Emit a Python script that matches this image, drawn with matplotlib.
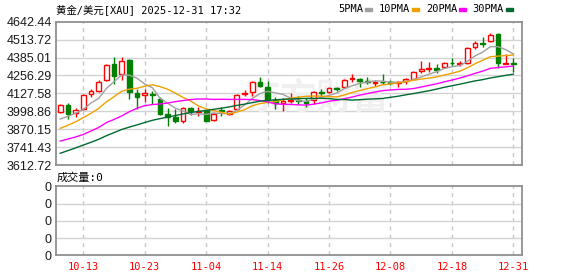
import matplotlib

matplotlib.use("Agg")
import matplotlib.pyplot as plt
import numpy as np

# trading days shown (MM-DD, 2025)
dates = ["10-08", "10-09", "10-10", "10-13", "10-14", "10-15", "10-16", "10-17", "10-20", "10-21",
         "10-22", "10-23", "10-24", "10-27", "10-28", "10-29", "10-30", "10-31", "11-03", "11-04",
         "11-05", "11-06", "11-07", "11-10", "11-11", "11-12", "11-13", "11-14", "11-17", "11-18",
         "11-19", "11-20", "11-21", "11-24", "11-25", "11-26", "11-27", "11-28", "12-01", "12-02",
         "12-03", "12-04", "12-05", "12-08", "12-09", "12-10", "12-11", "12-12", "12-15", "12-16",
         "12-17", "12-18", "12-19", "12-22", "12-23", "12-24", "12-26", "12-29", "12-30", "12-31"]

opens = [3991, 4042, 3988, 4017, 4121, 4146, 4221, 4338, 4266, 4367,
         4132, 4113, 4125, 4087, 3979, 3955, 3927, 4020, 3997, 4006,
         3936, 4005, 3981, 4013, 4120, 4135, 4211, 4171, 4080, 4056,
         4075, 4082, 4072, 4080, 4135, 4135, 4164, 4171, 4230, 4231,
         4215, 4204, 4212, 4210, 4200, 4214, 4233, 4290, 4301, 4307,
         4317, 4349, 4338, 4348, 4463, 4490, 4504, 4552, 4338, 4348]
highs = [4051, 4060, 4022, 4121, 4161, 4223, 4341, 4387, 4389, 4374,
         4159, 4159, 4145, 4101, 4020, 4017, 4027, 4030, 4032, 4008,
         3986, 4031, 4005, 4123, 4151, 4216, 4243, 4218, 4103, 4096,
         4132, 4108, 4096, 4142, 4159, 4171, 4175, 4228, 4264, 4240,
         4245, 4218, 4264, 4223, 4218, 4240, 4288, 4357, 4353, 4338,
         4351, 4380, 4360, 4458, 4506, 4530, 4559, 4559, 4410, 4384]
lows = [3985, 3945, 3955, 4010, 4099, 4140, 4216, 4192, 4223, 4087,
        4013, 4065, 4050, 3974, 3893, 3917, 3917, 3972, 3965, 3926,
        3929, 3967, 3970, 4008, 4108, 4108, 4175, 4060, 4013, 4001,
        4060, 4049, 4027, 4051, 4108, 4130, 4146, 4168, 4211, 4175,
        4192, 4182, 4197, 4188, 4175, 4195, 4228, 4276, 4279, 4276,
        4307, 4324, 4322, 4338, 4448, 4463, 4496, 4307, 4336, 4283]
closes = [4044, 3979, 4010, 4113, 4144, 4211, 4331, 4254, 4358, 4135,
          4101, 4128, 4118, 3979, 3955, 3927, 4022, 3999, 4001, 3931,
          3981, 3998, 4000, 4116, 4127, 4207, 4180, 4080, 4060, 4072,
          4080, 4076, 4060, 4135, 4129, 4164, 4160, 4223, 4236, 4214,
          4209, 4210, 4206, 4203, 4208, 4231, 4281, 4300, 4307, 4297,
          4346, 4343, 4344, 4454, 4492, 4482, 4545, 4344, 4345, 4338]

# moving averages
ma5 = [3943, 3962, 3985, 4012, 4058, 4091, 4162, 4211, 4260, 4258,
       4236, 4195, 4168, 4092, 4056, 4021, 4000, 3976, 3981, 3976,
       3987, 3982, 3982, 4005, 4044, 4090, 4126, 4142, 4131, 4120,
       4094, 4074, 4070, 4085, 4096, 4113, 4130, 4162, 4182, 4199,
       4208, 4218, 4215, 4208, 4207, 4212, 4226, 4245, 4265, 4283,
       4306, 4319, 4327, 4357, 4396, 4423, 4463, 4463, 4442, 4411]
ma10 = [3876, 3898, 3923, 3953, 3984, 4019, 4066, 4103, 4143, 4158,
        4164, 4179, 4189, 4176, 4157, 4129, 4098, 4072, 4037, 4016,
        4004, 3991, 3979, 3993, 4010, 4038, 4054, 4062, 4068, 4082,
        4092, 4100, 4106, 4108, 4108, 4104, 4102, 4116, 4134, 4148,
        4161, 4174, 4189, 4195, 4203, 4210, 4222, 4230, 4237, 4245,
        4259, 4272, 4286, 4311, 4340, 4365, 4391, 4395, 4399, 4403]
ma20 = [3785, 3799, 3814, 3832, 3857, 3882, 3917, 3940, 3965, 3996,
        4020, 4039, 4047, 4051, 4058, 4068, 4076, 4083, 4087, 4087,
        4084, 4085, 4084, 4084, 4084, 4083, 4076, 4067, 4052, 4049,
        4048, 4045, 4043, 4050, 4059, 4071, 4078, 4089, 4101, 4115,
        4126, 4137, 4147, 4152, 4156, 4157, 4162, 4173, 4185, 4196,
        4210, 4223, 4237, 4253, 4271, 4287, 4307, 4313, 4318, 4324]
ma30 = [3697, 3716, 3735, 3756, 3776, 3797, 3823, 3845, 3868, 3885,
        3901, 3918, 3934, 3946, 3957, 3968, 3980, 3990, 3998, 4005,
        4013, 4021, 4030, 4041, 4050, 4061, 4071, 4077, 4081, 4085,
        4087, 4090, 4091, 4092, 4092, 4090, 4084, 4083, 4079, 4082,
        4086, 4088, 4091, 4099, 4107, 4117, 4126, 4136, 4146, 4158,
        4171, 4182, 4193, 4205, 4217, 4226, 4238, 4247, 4257, 4265]
volume = [0] * len(dates)

price_ticks = [3612.72, 3741.43, 3870.15, 3998.86, 4127.58, 4256.29, 4385.01, 4513.72, 4642.44]
volume_ticks = [0, 0.25, 0.5, 0.75, 1.0]
volume_ticklabels = ["0", "0", "0", "0", "0"]
tick_dates = ["10-13", "10-23", "11-04", "11-14", "11-26", "12-08", "12-18", "12-31"]

ma_series = [("5PMA", ma5, "#a0a0a0"), ("10PMA", ma10, "#f0a000"),
             ("20PMA", ma20, "#ff00ff"), ("30PMA", ma30, "#006a32")]

RED = "#ff0000"
GREEN = "#008000"
MONO_CJK = ["DejaVu Sans Mono", "Noto Sans CJK SC"]

W, H = 578, 276
fig = plt.figure(figsize=(W / 100, H / 100), dpi=100)
ax = fig.add_axes([56 / W, 1 - 165 / H, 466 / W, 143.3 / H])
axv = fig.add_axes([56 / W, 1 - 255.3 / H, 466 / W, 69 / H])

x = np.arange(len(dates))
o, h, l, c = map(np.array, (opens, highs, lows, closes))
up = c >= o
edge = np.where(up, RED, GREEN)
face = np.where(up, "white", GREEN)

ax.vlines(x, l, h, colors=edge, lw=1, zorder=3)
ax.bar(x, np.maximum(np.abs(c - o), 0.5), bottom=np.minimum(o, c), width=0.62,
       color=face, edgecolor=edge, lw=1, zorder=4)
for name, vals, col in ma_series:
    ax.plot(x, vals, color=col, lw=1, zorder=5)

# watermark
ax.text(0.56, 0.47, "东方财富", transform=ax.transAxes, ha="center", va="center",
        fontsize=26, color="#f0f0f0", family=["Noto Sans CJK SC"], weight="bold", zorder=1)

axv.bar(x, volume, width=0.62, color=GREEN)

tick_pos = [dates.index(d) for d in tick_dates]
for a in (ax, axv):
    a.set_xlim(-0.55, 60.13)
    a.set_xticks(tick_pos)
    for p in tick_pos:
        a.axvline(p, color="#c8c8c8", lw=1, ls=(0, (3, 3)), zorder=0)
    for s in a.spines.values():
        s.set_color("#909090")
        s.set_linewidth(1.3)
    a.tick_params(length=0, labelsize=9, labelcolor="#1a1a1a", pad=3)

ax.set_ylim(price_ticks[0], price_ticks[-1])
ax.set_yticks(price_ticks)
ax.set_yticklabels([f"{v:.2f}" for v in price_ticks], family="Liberation Sans")
for v in price_ticks[1:-1]:
    ax.axhline(v, color="#d3d3d3", lw=1, zorder=0)
ax.set_xticklabels([])

axv.set_ylim(0, 1)
axv.set_yticks(volume_ticks)
axv.set_yticklabels(volume_ticklabels, family="Liberation Sans")
for v in volume_ticks[1:-1]:
    axv.axhline(v, color="#d3d3d3", lw=1, zorder=0)
axv.set_xticklabels(tick_dates, color=RED, family="DejaVu Sans Mono", fontsize=7.5)
axv.tick_params(axis="x", pad=5)

# header texts
fig.text(56 / W, 1 - 9.5 / H, "黄金/美元[XAU] 2025-12-31 17:32", family=MONO_CJK,
         fontsize=7.5, va="center", ha="left", color="#000000")
lx = 338
for name, vals, col in ma_series:
    fig.text(lx / W, 1 - 9.5 / H, name, family=MONO_CJK, fontsize=7.5,
             va="center", ha="left", color="#000000")
    lx += 6.2 * len(name) + 2
    fig.patches.append(plt.Rectangle((lx / W, 1 - 11 / H), 7 / W, 3 / H, color=col,
                                     transform=fig.transFigure, figure=fig))
    lx += 14
fig.text(57 / W, 1 - 177.3 / H, "成交量:0", family=MONO_CJK, fontsize=8,
         va="center", ha="left", color="#000000")

fig.savefig("out.png", dpi=100)
